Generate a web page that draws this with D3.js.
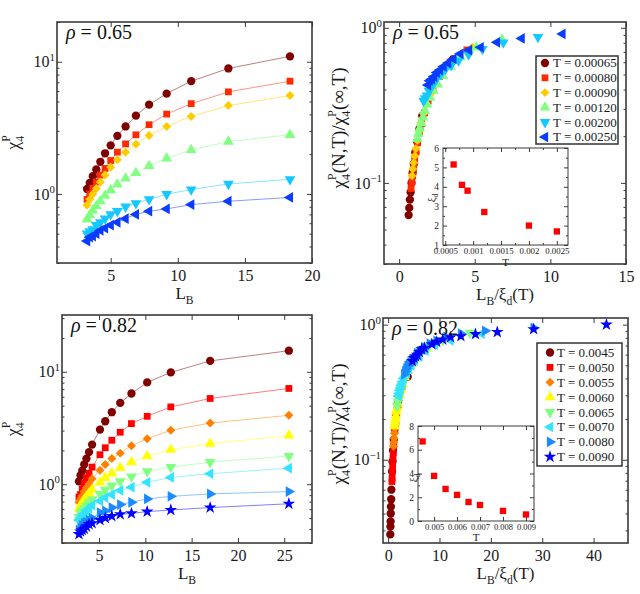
<!DOCTYPE html>
<html>
<head>
<meta charset="utf-8">
<script src="https://cdn.jsdelivr.net/npm/d3@7"></script>
<style>
  body { margin: 0; background: #fff; }
  svg, svg text { font-family: "Liberation Serif", "Times New Roman", serif; }
  svg { display: block; }
</style>
</head>
<body>
<svg id="chart" width="640" height="594"></svg>
<script>
// ---- rho = 0.65 ----
const tempsA = ["0.00065", "0.00080", "0.00090", "0.00120", "0.00200", "0.00250"];
const colorsA = ["#800000", "#ff2a00", "#ffcc00", "#80ff80", "#15c8ff", "#0a3cff"];
const shapesA = ["circle", "square", "diamond", "up", "down", "left"];
const lbA = [18.36, 13.77, 11.0, 9.17, 7.86, 6.88, 6.11, 5.5, 5.0, 4.58, 4.23, 3.93, 3.67, 3.44, 3.24];
const chiA = [
  [11.0, 8.9, 7.13, 5.74, 4.74, 3.91, 3.24, 2.75, 2.33, 2.03, 1.75, 1.53, 1.36, 1.21, 1.09],
  [7.13, 5.92, 4.82, 4.02, 3.34, 2.8, 2.39, 2.07, 1.79, 1.56, 1.39, 1.23, 1.1, 1.0, 0.91],
  [5.55, 4.66, 3.86, 3.24, 2.77, 2.38, 2.07, 1.81, 1.59, 1.39, 1.23, 1.1, 1.0, 0.91, 0.82],
  [2.8, 2.49, 2.15, 1.86, 1.63, 1.44, 1.31, 1.18, 1.07, 0.97, 0.88, 0.81, 0.75, 0.69, 0.64],
  [1.29, 1.19, 1.08, 0.995, 0.91, 0.85, 0.8, 0.74, 0.7, 0.65, 0.61, 0.58, 0.54, 0.52, 0.5],
  [0.94, 0.88, 0.83, 0.77, 0.74, 0.7, 0.65, 0.61, 0.58, 0.55, 0.53, 0.5, 0.48, 0.47, 0.44]
];
const scaledXA = [
  [3.57, 2.67, 2.14, 1.78, 1.53, 1.34, 1.19, 1.07, 0.97, 0.89, 0.82, 0.76, 0.71, 0.67, 0.63],
  [4.48, 3.36, 2.68, 2.24, 1.92, 1.68, 1.49, 1.34, 1.22, 1.12, 1.03, 0.96, 0.9, 0.84, 0.79],
  [4.83, 3.62, 2.89, 2.41, 2.07, 1.81, 1.61, 1.45, 1.32, 1.21, 1.11, 1.03, 0.97, 0.91, 0.85],
  [6.8, 5.1, 4.07, 3.4, 2.91, 2.55, 2.26, 2.04, 1.85, 1.7, 1.57, 1.46, 1.36, 1.27, 1.2],
  [9.18, 6.89, 5.5, 4.59, 3.93, 3.44, 3.06, 2.75, 2.5, 2.29, 2.12, 1.97, 1.84, 1.72, 1.62],
  [10.8, 8.1, 6.47, 5.39, 4.62, 4.05, 3.59, 3.24, 2.94, 2.69, 2.49, 2.31, 2.16, 2.02, 1.91]
];
const scaledYA = [
  [0.629, 0.509, 0.407, 0.328, 0.271, 0.223, 0.185, 0.157, 0.133, 0.116, 0.1, 0.087, 0.078, 0.069, 0.062],
  [0.72, 0.598, 0.487, 0.406, 0.337, 0.283, 0.241, 0.209, 0.181, 0.158, 0.14, 0.124, 0.111, 0.101, 0.092],
  [0.75, 0.63, 0.522, 0.438, 0.374, 0.322, 0.28, 0.245, 0.215, 0.188, 0.166, 0.149, 0.135, 0.123, 0.111],
  [0.841, 0.748, 0.646, 0.559, 0.489, 0.432, 0.393, 0.354, 0.321, 0.291, 0.264, 0.243, 0.225, 0.207, 0.192],
  [0.872, 0.804, 0.73, 0.672, 0.615, 0.574, 0.541, 0.5, 0.473, 0.439, 0.412, 0.392, 0.365, 0.351, 0.338],
  [0.913, 0.854, 0.806, 0.748, 0.718, 0.68, 0.631, 0.592, 0.563, 0.534, 0.515, 0.485, 0.466, 0.456, 0.427]
];
const insetTA = [0.00065, 0.0008, 0.0009, 0.0012, 0.002, 0.0025];
const insetXiA = [5.15, 4.1, 3.8, 2.7, 2.0, 1.7];

// ---- rho = 0.82 ----
const tempsB = ["0.0045", "0.0050", "0.0055", "0.0060", "0.0065", "0.0070", "0.0080", "0.0090"];
const colorsB = ["#800000", "#ff0000", "#ff8000", "#ffff00", "#80ff80", "#35e3ff", "#1a8cff", "#0000ff"];
const shapesB = ["circle", "square", "diamond", "up", "down", "left", "right", "star"];
const lbB = [25.5, 17.0, 12.75, 10.2, 8.5, 7.29, 6.38, 5.67, 5.1, 4.25, 3.92, 3.64, 3.4, 3.19, 3.0, 2.83];
const chiB = [
  [15.4, 12.5, 9.88, 8.04, 6.41, 5.29, 4.37, 3.63, 3.06, 2.25, 1.93, 1.69, 1.5, 1.32, 1.2, 1.06],
  [7.11, 5.79, 4.87, 4.02, 3.46, 2.9, 2.46, 2.11, 1.83, 1.42, 1.25, 1.14, 1.02, 0.91, 0.81, 0.77],
  [4.1, 3.5, 3.02, 2.54, 2.2, 1.89, 1.69, 1.5, 1.33, 1.12, 1.01, 0.93, 0.86, 0.79, 0.74, 0.69],
  [2.72, 2.29, 2.03, 1.78, 1.57, 1.4, 1.25, 1.14, 1.04, 0.9, 0.83, 0.78, 0.73, 0.69, 0.65, 0.61],
  [1.78, 1.57, 1.42, 1.3, 1.17, 1.06, 0.97, 0.89, 0.82, 0.73, 0.69, 0.65, 0.61, 0.58, 0.55, 0.51],
  [1.39, 1.24, 1.15, 1.04, 0.94, 0.88, 0.81, 0.76, 0.71, 0.65, 0.61, 0.58, 0.55, 0.53, 0.5, 0.48],
  [0.86, 0.82, 0.78, 0.74, 0.69, 0.66, 0.62, 0.58, 0.56, 0.5, 0.48, 0.46, 0.45, 0.43, 0.41, 0.39],
  [0.67, 0.62, 0.59, 0.57, 0.55, 0.54, 0.52, 0.5, 0.48, 0.45, 0.44, 0.42, 0.4, 0.39, 0.38, 0.36]
];
const scaledXB = [
  [3.81, 2.54, 1.9, 1.52, 1.27, 1.09, 0.95, 0.85, 0.76, 0.63, 0.59, 0.54, 0.51, 0.48, 0.45, 0.42],
  [6.62, 4.42, 3.31, 2.65, 2.21, 1.89, 1.66, 1.47, 1.32, 1.1, 1.02, 0.95, 0.88, 0.83, 0.78, 0.74],
  [9.27, 6.18, 4.64, 3.71, 3.09, 2.65, 2.32, 2.06, 1.85, 1.55, 1.43, 1.32, 1.24, 1.16, 1.09, 1.03],
  [11.33, 7.56, 5.67, 4.53, 3.78, 3.24, 2.83, 2.52, 2.27, 1.89, 1.74, 1.62, 1.51, 1.42, 1.33, 1.26],
  [15.94, 10.63, 7.97, 6.38, 5.31, 4.56, 3.98, 3.54, 3.19, 2.66, 2.45, 2.28, 2.13, 1.99, 1.88, 1.77],
  [18.21, 12.14, 9.11, 7.29, 6.07, 5.21, 4.55, 4.05, 3.64, 3.04, 2.8, 2.6, 2.43, 2.28, 2.14, 2.02],
  [28.33, 18.89, 14.17, 11.33, 9.44, 8.1, 7.08, 6.3, 5.67, 4.72, 4.36, 4.04, 3.78, 3.54, 3.33, 3.14],
  [42.5, 28.33, 21.25, 17.0, 14.17, 12.15, 10.63, 9.45, 8.5, 7.08, 6.53, 6.07, 5.67, 5.32, 5.0, 4.72]
];
const scaledYB = [
  [0.411, 0.333, 0.263, 0.214, 0.171, 0.141, 0.117, 0.097, 0.082, 0.06, 0.051, 0.045, 0.04, 0.035, 0.032, 0.028],
  [0.64, 0.522, 0.439, 0.362, 0.312, 0.261, 0.222, 0.19, 0.165, 0.128, 0.113, 0.103, 0.092, 0.082, 0.073, 0.069],
  [0.75, 0.64, 0.552, 0.464, 0.402, 0.346, 0.309, 0.274, 0.243, 0.205, 0.185, 0.17, 0.157, 0.144, 0.135, 0.126],
  [0.791, 0.666, 0.59, 0.517, 0.456, 0.407, 0.363, 0.331, 0.302, 0.262, 0.241, 0.227, 0.212, 0.2, 0.189, 0.177],
  [0.868, 0.766, 0.693, 0.634, 0.571, 0.517, 0.473, 0.434, 0.4, 0.356, 0.337, 0.317, 0.298, 0.283, 0.268, 0.249],
  [0.858, 0.765, 0.71, 0.642, 0.58, 0.543, 0.5, 0.469, 0.438, 0.401, 0.377, 0.358, 0.34, 0.327, 0.309, 0.296],
  [0.945, 0.901, 0.857, 0.813, 0.758, 0.725, 0.681, 0.637, 0.615, 0.549, 0.527, 0.505, 0.495, 0.473, 0.451, 0.429],
  [1.0, 0.925, 0.881, 0.851, 0.821, 0.806, 0.776, 0.746, 0.716, 0.672, 0.657, 0.627, 0.597, 0.582, 0.567, 0.537]
];
const insetTB = [0.0045, 0.005, 0.0055, 0.006, 0.0065, 0.007, 0.008, 0.009];
const insetXiB = [6.7, 3.8, 2.7, 2.2, 1.6, 1.35, 0.85, 0.55];

const svg = d3.select("#chart");
const INK = "#1a1a1a";
const FRAME = "#3a3a3a";

const shapeDefs = {
  circle: { type: d3.symbolCircle, rot: 0, size: 54 },
  square: { type: d3.symbolSquare, rot: 0, size: 46 },
  diamond: { type: d3.symbolSquare, rot: 45, size: 40 },
  up: { type: d3.symbolTriangle, rot: 0, size: 50 },
  down: { type: d3.symbolTriangle, rot: 180, size: 50 },
  left: { type: d3.symbolTriangle, rot: -90, size: 50 },
  right: { type: d3.symbolTriangle, rot: 90, size: 50 },
  star: { type: d3.symbolStar, rot: 0, size: 50 }
};

function marker(sel, shape) {
  const s = shapeDefs[shape];
  sel.attr("d", d3.symbol().type(s.type).size(s.size)());
  return s.rot;
}

// log minor tick values between domain ends
function logMinors(domain) {
  const out = [];
  for (let e = Math.floor(Math.log10(domain[0])); e <= Math.ceil(Math.log10(domain[1])); e++) {
    for (let m = 2; m <= 9; m++) {
      const v = m * Math.pow(10, e);
      if (v >= domain[0] && v <= domain[1]) out.push(v);
    }
  }
  return out;
}

// frame + inward ticks on all four sides
function drawFrame(g, box, x, y, o) {
  const tick = o.tick || 5;
  const ax = (axis, tr) => g.append("g").attr("transform", tr).call(axis)
    .attr("font-family", null)
    .call(s => s.select(".domain").remove())
    .call(s => s.selectAll("line").attr("stroke", FRAME).attr("stroke-width", 1));

  ax(d3.axisBottom(x).tickValues(o.xTicks).tickSize(-tick).tickPadding(o.pad || 8)
      .tickFormat(o.xFormat || d3.format("")), `translate(0,${box.y1})`)
    .selectAll("text").attr("font-size", o.xfs || o.fs).attr("fill", INK);
  ax(d3.axisTop(x).tickValues(o.xTicks).tickSize(-tick).tickFormat(""), `translate(0,${box.y0})`);
  if (o.xMinor) {
    ax(d3.axisBottom(x).tickValues(o.xMinor).tickSize(-tick / 2).tickFormat(""), `translate(0,${box.y1})`);
    ax(d3.axisTop(x).tickValues(o.xMinor).tickSize(-tick / 2).tickFormat(""), `translate(0,${box.y0})`);
  }

  ax(d3.axisLeft(y).tickValues(o.yTicks).tickSize(-tick).tickPadding(4)
      .tickFormat(o.yLog ? "" : (o.yFormat || d3.format(""))), `translate(${box.x0},0)`)
    .selectAll("text").attr("font-size", o.fs).attr("fill", INK);
  ax(d3.axisRight(y).tickValues(o.yTicks).tickSize(-tick).tickFormat(""), `translate(${box.x1},0)`);
  if (o.yMinor) {
    ax(d3.axisLeft(y).tickValues(o.yMinor).tickSize(-tick / 2).tickFormat(""), `translate(${box.x0},0)`);
    ax(d3.axisRight(y).tickValues(o.yMinor).tickSize(-tick / 2).tickFormat(""), `translate(${box.x1},0)`);
  }

  if (o.yLog) {
    o.yTicks.forEach(v => {
      const e = Math.round(Math.log10(v));
      const t = g.append("text").attr("x", box.x0 - 2).attr("y", y(v)).attr("dy", "0.35em")
        .attr("text-anchor", "end").attr("font-size", o.fs).attr("fill", INK);
      t.append("tspan").text("10");
      t.append("tspan").attr("font-size", o.fs * 0.68).attr("dy", -o.fs * 0.42)
        .text(e < 0 ? "\u2212" + (-e) : String(e));
    });
  }

  g.append("rect").attr("class", "frame").attr("x", box.x0).attr("y", box.y0)
    .attr("width", box.x1 - box.x0).attr("height", box.y1 - box.y0)
    .attr("fill", "none").attr("stroke", FRAME).attr("stroke-width", o.frameW || 1.6);
}

function rhoLabel(g, box, value) {
  const t = g.append("text").attr("x", box.x0 + 9).attr("y", box.y0 + 17)
    .attr("font-size", 20).attr("fill", "#111");
  t.append("tspan").attr("font-style", "italic").text("\u03c1");
  t.append("tspan").text(" = " + value);
}

// χ with stacked subscript 4 and superscript P
function chiPart(t, fs) {
  t.append("tspan").text("\u03c7");
  t.append("tspan").attr("font-size", fs * 0.65).attr("dy", fs * 0.28).text("4");
  t.append("tspan").attr("font-size", fs * 0.65).attr("dx", -fs * 0.33).attr("dy", -fs * 0.78).text("P");
}

function leftYLabel(g, xPos, yPos) {
  const fs = 18;
  const t = g.append("text").attr("transform", `translate(${xPos},${yPos}) rotate(-90)`)
    .attr("text-anchor", "middle").attr("font-size", fs).attr("fill", INK);
  chiPart(t, fs);
}

function rightYLabel(g, xPos, yPos) {
  const fs = 19;
  const t = g.append("text").attr("transform", `translate(${xPos},${yPos}) rotate(-90)`)
    .attr("text-anchor", "middle").attr("font-size", fs).attr("fill", INK);
  chiPart(t, fs);
  t.append("tspan").attr("dy", fs * 0.5).text("(N,T)/");
  chiPart(t, fs);
  t.append("tspan").attr("dy", fs * 0.5).text("(\u221e,T)");
}

function lbLabel(g, xPos, yPos, scaled) {
  const fs = 17;
  const t = g.append("text").attr("x", xPos).attr("y", yPos).attr("text-anchor", "middle")
    .attr("font-size", fs).attr("fill", INK);
  t.append("tspan").text("L");
  t.append("tspan").attr("font-size", fs * 0.68).attr("dy", fs * 0.28).text("B");
  if (scaled) {
    t.append("tspan").attr("dy", -fs * 0.28).text("/\u03be");
    t.append("tspan").attr("font-size", fs * 0.68).attr("dy", fs * 0.28).text("d");
    t.append("tspan").attr("dy", -fs * 0.28).text("(T)");
  }
}

// raw chi4 vs L_B panel
function rawPanel(box, xDomain, yDomain, xTicks, temps, colors, shapes, lb, chi, rho) {
  const g = svg.append("g");
  const x = d3.scaleLinear().domain(xDomain).range([box.x0, box.x1]);
  const y = d3.scaleLog().domain(yDomain).range([box.y1, box.y0]);
  const majors = [0.1, 1, 10, 100].filter(v => v >= yDomain[0] && v <= yDomain[1]);
  drawFrame(g, box, x, y, { xTicks, yTicks: majors, yMinor: logMinors(yDomain), yLog: true, fs: 16, pad: 7 });

  const line = d3.line().x(d => x(d[0])).y(d => y(d[1]));
  temps.forEach((tk, i) => {
    g.append("path").attr("d", line(d3.zip(lb, chi[i]))).attr("fill", "none")
      .attr("stroke", colors[i]).attr("stroke-opacity", 0.5).attr("stroke-width", 1);
  });
  temps.forEach((tk, i) => {
    g.selectAll(null).data(d3.zip(lb, chi[i])).join("path")
      .each(function (d) {
        const rot = marker(d3.select(this), shapes[i]);
        d3.select(this).attr("transform", `translate(${x(d[0])},${y(d[1])}) rotate(${rot})`);
      })
      .attr("fill", colors[i]);
  });
  rhoLabel(g, box, rho);
  leftYLabel(g, 19, (box.y0 + box.y1) / 2);
  lbLabel(g, (box.x0 + box.x1) / 2, box.y1 + 36, false);
}

// rescaled collapse panel with legend and inset
function collapsePanel(box, xDomain, yDomain, xTicks, temps, colors, shapes, sx, sy, rho, leg, inset) {
  const g = svg.append("g");
  const x = d3.scaleLinear().domain(xDomain).range([box.x0, box.x1]);
  const y = d3.scaleLog().domain(yDomain).range([box.y1, box.y0]);
  const majors = [0.01, 0.1, 1].filter(v => v >= yDomain[0] && v <= yDomain[1]);
  drawFrame(g, box, x, y, { xTicks, yTicks: majors, yMinor: logMinors(yDomain), yLog: true, fs: 16, pad: 7 });

  temps.forEach((tk, i) => {
    g.selectAll(null).data(d3.zip(sx[i], sy[i])).join("path")
      .each(function (d) {
        const rot = marker(d3.select(this), shapes[i]);
        d3.select(this).attr("transform", `translate(${x(d[0])},${y(d[1])}) rotate(${rot})`);
      })
      .attr("fill", colors[i]);
  });
  rhoLabel(g, box, rho);
  rightYLabel(g, leg.yLabelX, leg.yLabelY);
  lbLabel(g, (box.x0 + box.x1) / 2, box.y1 + 36, true);

  // legend
  const lg = g.append("g");
  lg.append("rect").attr("x", leg.x0).attr("y", leg.y0).attr("width", leg.w).attr("height", leg.h)
    .attr("fill", "#fff").attr("stroke", "#333").attr("stroke-width", 1.5);
  temps.forEach((tk, i) => {
    const yy = leg.y0 + leg.first + i * leg.step;
    const m = lg.append("path").attr("fill", colors[i]);
    const rot = marker(m, shapes[i]);
    m.attr("transform", `translate(${leg.mx},${yy}) rotate(${rot})`);
    lg.append("text").attr("x", leg.tx).attr("y", yy).attr("dy", "0.34em")
      .attr("font-size", 13).attr("fill", INK).text("T = " + tk);
  });

  // inset
  const ib = inset.box;
  const ig = g.append("g");
  ig.append("rect").attr("x", ib.x0).attr("y", ib.y0).attr("width", ib.x1 - ib.x0)
    .attr("height", ib.y1 - ib.y0).attr("fill", "#fff");
  const ix = d3.scaleLinear().domain(inset.xDomain).range([ib.x0, ib.x1]);
  const iy = d3.scaleLinear().domain(inset.yDomain).range([ib.y1, ib.y0]);
  drawFrame(ig, ib, ix, iy, {
    xTicks: inset.xTicks, xMinor: inset.xMinor, xFormat: inset.xFmt,
    yTicks: inset.yTicks, yMinor: inset.yMinor, fs: 9.5, xfs: inset.xfs, pad: 3, tick: 4, frameW: 1
  });
  ig.selectAll(null).data(d3.zip(inset.t, inset.xi)).join("path")
    .attr("d", d3.symbol().type(d3.symbolSquare).size(40)())
    .attr("transform", d => `translate(${ix(d[0])},${iy(d[1])})`)
    .attr("fill", "#ff0000");
  ig.append("text").attr("x", (ib.x0 + ib.x1) / 2).attr("y", inset.tY).attr("text-anchor", "middle")
    .attr("font-size", 11).attr("fill", INK).text("T");
  const xl = ig.append("text").attr("transform", `translate(${inset.xiX},${inset.xiY}) rotate(-90)`)
    .attr("text-anchor", "middle").attr("font-size", 11).attr("fill", INK);
  xl.append("tspan").text("\u03be");
  xl.append("tspan").attr("font-size", 7.5).attr("dy", 3).text("d");
}

// ---- top row ----
rawPanel({ x0: 57, x1: 312, y0: 22, y1: 263 }, [1, 20], [0.3, 20], [5, 10, 15, 20],
  tempsA, colorsA, shapesA, lbA, chiA, "0.65");

collapsePanel({ x0: 384, x1: 626, y0: 22, y1: 264 }, [-1, 15], [0.03, 1.09], [0, 5, 10, 15],
  tempsA, colorsA, shapesA, scaledXA, scaledYA, "0.65",
  { x0: 536, y0: 56, w: 82, h: 88, first: 7, step: 14.8, mx: 545, tx: 553, yLabelX: 345, yLabelY: 128 },
  {
    box: { x0: 443, x1: 568, y0: 148, y1: 245 },
    xDomain: [0.00046, 0.0027], yDomain: [1, 6],
    xTicks: [0.0005, 0.001, 0.0015, 0.002, 0.0025], xMinor: [0.00075, 0.00125, 0.00175, 0.00225],
    xFmt: d3.format(""), xfs: 8.8, yTicks: [1, 2, 3, 4, 5, 6], yMinor: [1.5, 2.5, 3.5, 4.5, 5.5],
    t: insetTA, xi: insetXiA, tY: 266, xiX: 435, xiY: 198
  });

// ---- bottom row ----
rawPanel({ x0: 62, x1: 312, y0: 315, y1: 543 }, [1, 28], [0.3, 32], [5, 10, 15, 20, 25],
  tempsB, colorsB, shapesB, lbB, chiB, "0.82");

collapsePanel({ x0: 383, x1: 628, y0: 318, y1: 543 }, [-1, 46.7], [0.0242, 1.12], [0, 10, 20, 30, 40],
  tempsB, colorsB, shapesB, scaledXB, scaledYB, "0.82",
  { x0: 537, y0: 343, w: 85, h: 123, first: 9.5, step: 14.9, mx: 550, tx: 557, yLabelX: 345, yLabelY: 424 },
  {
    box: { x0: 418, x1: 534, y0: 426, y1: 521 },
    xDomain: [0.0043, 0.00935], yDomain: [0, 8],
    xTicks: [0.005, 0.006, 0.007, 0.008, 0.009], xMinor: null,
    xFmt: d3.format(""), xfs: 8.5, yTicks: [0, 2, 4, 6, 8], yMinor: [1, 3, 5, 7],
    t: insetTB, xi: insetXiB, tY: 541, xiX: 417, xiY: 478
  });
</script>
</body>
</html>
